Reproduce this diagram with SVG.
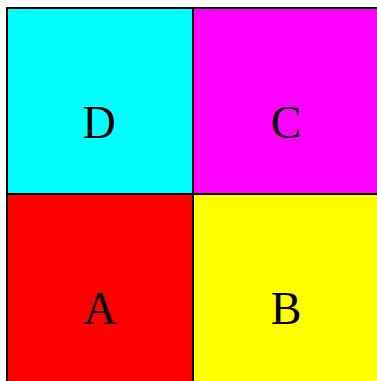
<svg xmlns="http://www.w3.org/2000/svg" width="377" height="381" viewBox="0 0 377 381">
<style>
rect{stroke:#000;stroke-width:2}
text{font-family:"Liberation Serif",serif;font-size:46px;text-anchor:middle;fill:#000}
</style>
<rect width="377" height="381" fill="#fff" style="stroke:none"/>
<g id="D"><rect x="7" y="8" width="186" height="186" fill="#00ffff"/><text x="99" y="138">D</text></g>
<g id="C"><rect x="193" y="8" width="186" height="186" fill="#ff00ff"/><text x="286" y="138">C</text></g>
<g id="A"><rect x="7" y="194" width="186" height="190" fill="#ff0000"/><text x="100" y="324">A</text></g>
<g id="B"><rect x="193" y="194" width="186" height="190" fill="#ffff00"/><text x="286" y="324">B</text></g>
<g id="connectors"/>
</svg>
